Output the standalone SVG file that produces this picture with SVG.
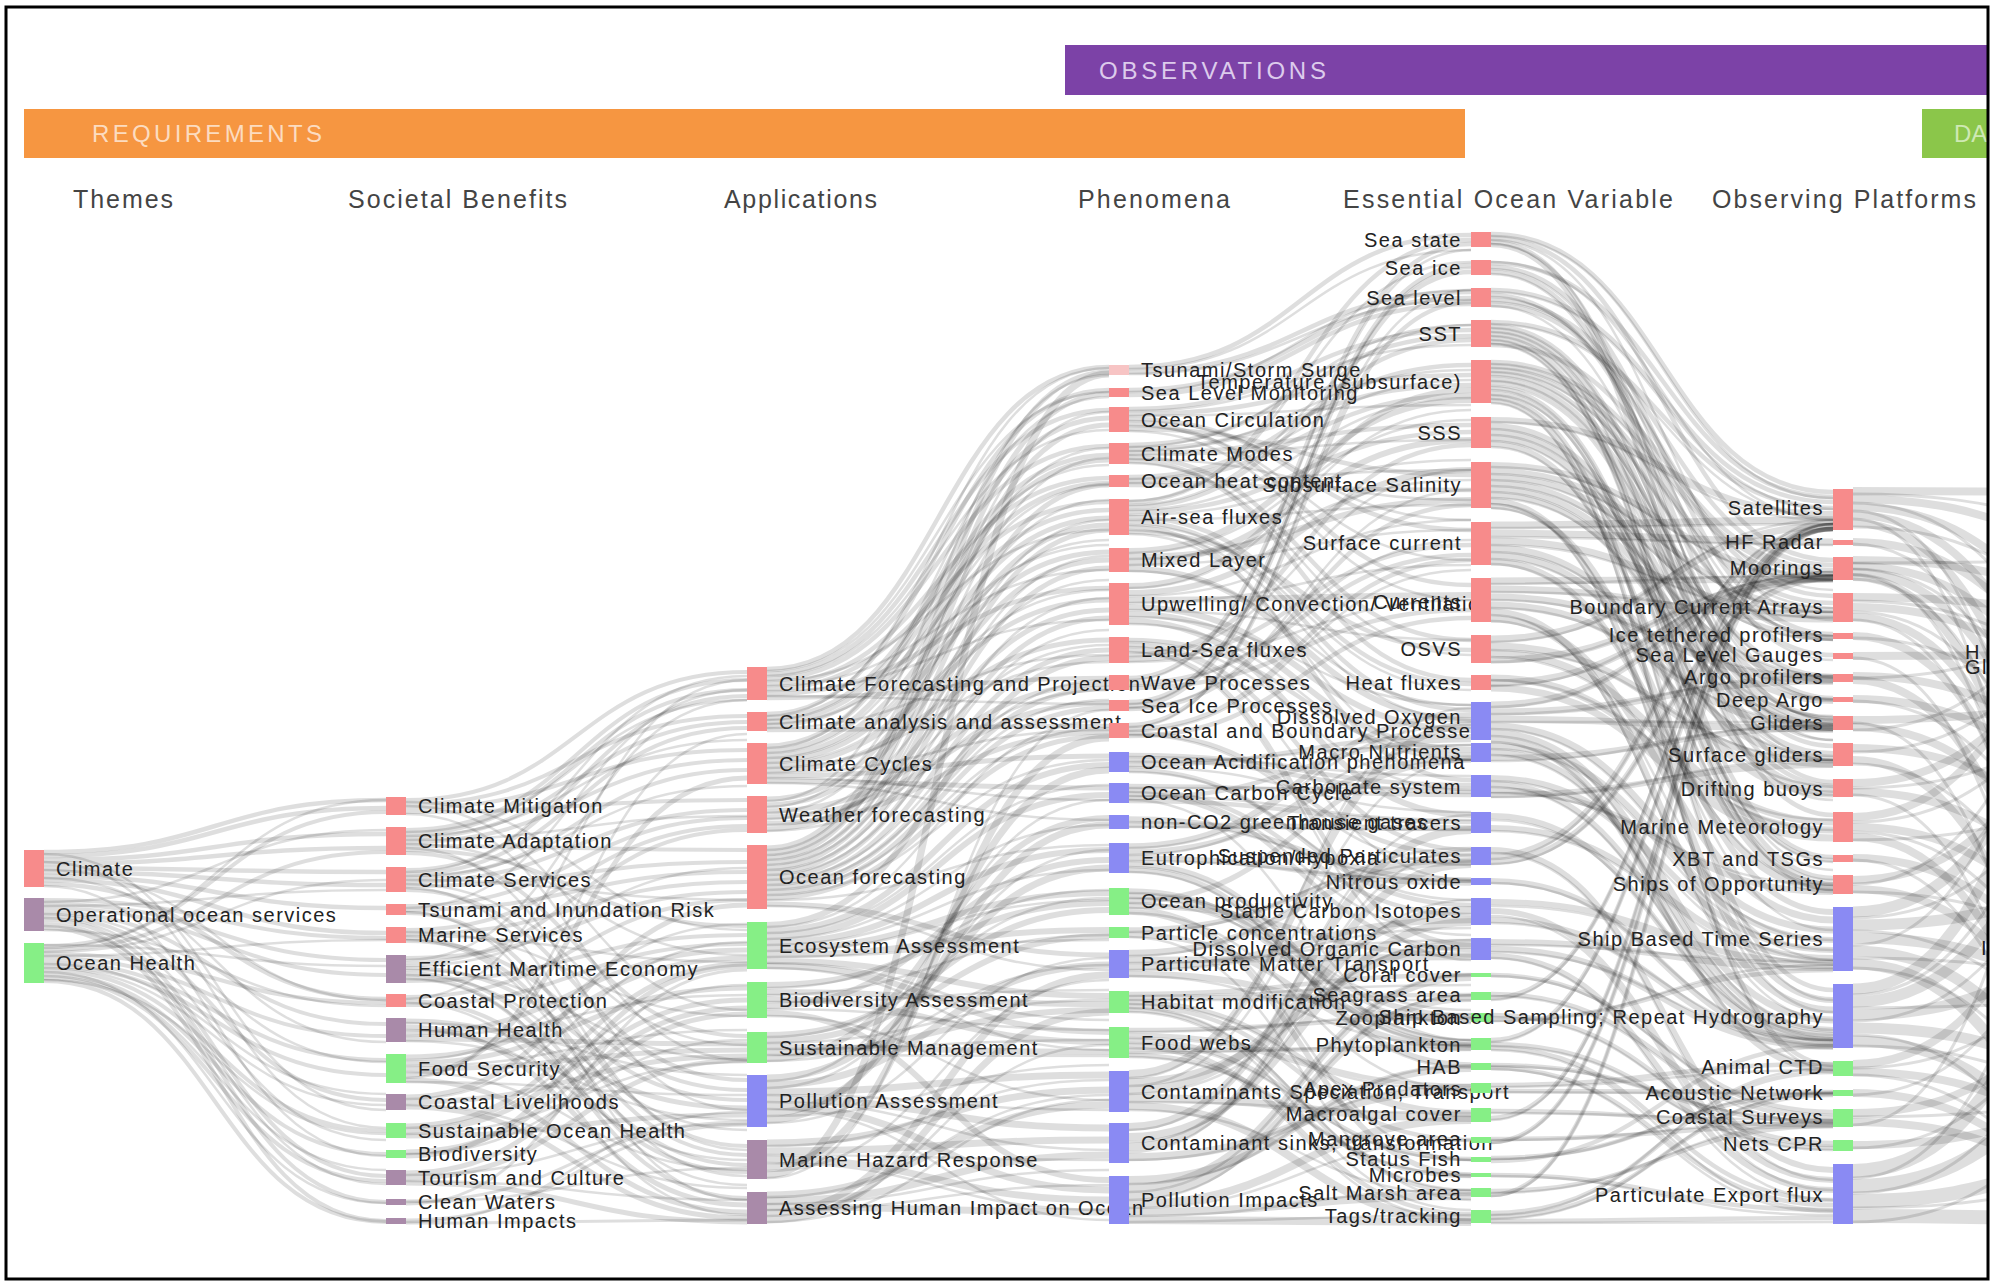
<svg xmlns="http://www.w3.org/2000/svg" width="1997" height="1284" viewBox="0 0 1997 1284">
<defs>
<clipPath id="cp"><rect x="7" y="8" width="1980" height="1270"/></clipPath>
<style>
.lk path{fill:none;stroke:#000;stroke-opacity:0.13}
.pk{fill:#f78b8b}.mv{fill:#a98aa9}.gr{fill:#86ef86}.bl{fill:#8a8af3}.lp{fill:#f7c4c4}
.lb{font-family:"Liberation Sans",Arial,sans-serif;font-size:20px;letter-spacing:1.5px;fill:#222}
.r{text-anchor:end}
.hd{font-family:"Liberation Sans",Arial,sans-serif;font-size:25px;fill:#444}
.bn{font-family:"Liberation Sans",Arial,sans-serif;font-size:24px}
</style>
</defs>
<rect x="0" y="0" width="1997" height="1284" fill="#fff"/>
<g clip-path="url(#cp)">
<g id="banners">
<rect x="1065" y="45" width="930" height="50" fill="#7c42a7"/>
<text class="bn" x="1099" y="79" textLength="227" lengthAdjust="spacing" fill="#dccbec">OBSERVATIONS</text>
<rect x="24" y="109" width="1441" height="49" fill="#f69641"/>
<text class="bn" x="92" y="142" textLength="230" lengthAdjust="spacing" fill="#fcdcc0">REQUIREMENTS</text>
<rect x="1922" y="109" width="80" height="49" fill="#8bc64a"/>
<text class="bn" x="1954" y="142" fill="#cfe9b4">DA</text>
</g>
<g id="headers">
<text class="hd" x="73" y="208" textLength="100" lengthAdjust="spacing">Themes</text>
<text class="hd" x="348" y="208" textLength="219" lengthAdjust="spacing">Societal Benefits</text>
<text class="hd" x="724" y="208" textLength="153" lengthAdjust="spacing">Applications</text>
<text class="hd" x="1078" y="208" textLength="152" lengthAdjust="spacing">Phenomena</text>
<text class="hd" x="1343" y="208" textLength="330" lengthAdjust="spacing">Essential Ocean Variable</text>
<text class="hd" x="1712" y="208" textLength="264" lengthAdjust="spacing">Observing Platforms</text>
</g>
<g id="links" class="lk">
<g stroke-width="4.5">
<path d="M44 852C215 852 215 800 386 800"/><path d="M44 856C215 856 215 808 386 808"/><path d="M44 860C215 860 215 834 386 834"/><path d="M44 864C215 864 215 848 386 848"/><path d="M44 868C215 868 215 872 386 872"/><path d="M44 872C215 872 215 885 386 885"/><path d="M44 876C215 876 215 908 386 908"/><path d="M44 880C215 880 215 933 386 933"/><path d="M44 884C215 884 215 999 386 999"/>
</g>
<g stroke-width="4">
<path d="M44 900C215 900 215 938 386 938"/><path d="M44 904C215 904 215 960 386 960"/><path d="M44 908C215 908 215 975 386 975"/><path d="M44 912C215 912 215 1024 386 1024"/><path d="M44 916C215 916 215 1100 386 1100"/><path d="M44 920C215 920 215 1176 386 1176"/><path d="M44 924C215 924 215 1202 386 1202"/><path d="M44 928C215 928 215 1221 386 1221"/>
<path d="M44 946C215 946 215 812 386 812"/><path d="M44 950C215 950 215 852 386 852"/><path d="M44 954C215 954 215 1003 386 1003"/><path d="M44 958C215 958 215 1036 386 1036"/><path d="M44 962C215 962 215 1060 386 1060"/><path d="M44 966C215 966 215 1075 386 1075"/><path d="M44 970C215 970 215 1131 386 1131"/><path d="M44 974C215 974 215 1154 386 1154"/><path d="M44 978C215 978 215 1181 386 1181"/><path d="M44 981C215 981 215 1222 386 1222"/>
</g>
<g stroke-width="2.5">
<path d="M44 854C215 854 215 1110 386 1110"/><path d="M44 862C215 862 215 1128 386 1128"/><path d="M44 870C215 870 215 1000 386 1000"/><path d="M44 878C215 878 215 1042 386 1042"/><path d="M44 886C215 886 215 1156 386 1156"/><path d="M44 902C215 902 215 830 386 830"/><path d="M44 906C215 906 215 890 386 890"/><path d="M44 914C215 914 215 1062 386 1062"/><path d="M44 918C215 918 215 1140 386 1140"/><path d="M44 926C215 926 215 1184 386 1184"/><path d="M44 930C215 930 215 1006 386 1006"/><path d="M44 948C215 948 215 800 386 800"/><path d="M44 952C215 952 215 880 386 880"/><path d="M44 956C215 956 215 940 386 940"/><path d="M44 964C215 964 215 1094 386 1094"/><path d="M44 968C215 968 215 1105 386 1105"/><path d="M44 972C215 972 215 1203 386 1203"/><path d="M44 976C215 976 215 1170 386 1170"/><path d="M44 980C215 980 215 1134 386 1134"/><path d="M44 945C215 945 215 966 386 966"/>
</g>
<g stroke-width="4">
<path d="M406 800C576 800 576 672 747 672"/><path d="M406 804C576 804 576 716 747 716"/><path d="M406 808C576 808 576 750 747 750"/><path d="M406 812C576 812 576 800 747 800"/>
<path d="M406 830C576 830 576 680 747 680"/><path d="M406 834C576 834 576 690 747 690"/><path d="M406 838C576 838 576 722 747 722"/><path d="M406 842C576 842 576 760 747 760"/><path d="M406 846C576 846 576 850 747 850"/><path d="M406 850C576 850 576 926 747 926"/><path d="M406 853C576 853 576 1036 747 1036"/>
<path d="M406 870C576 870 576 696 747 696"/><path d="M406 874C576 874 576 728 747 728"/><path d="M406 878C576 878 576 770 747 770"/><path d="M406 882C576 882 576 810 747 810"/><path d="M406 886C576 886 576 862 747 862"/><path d="M406 890C576 890 576 1080 747 1080"/>
<path d="M406 906C576 906 576 818 747 818"/><path d="M406 910C576 910 576 872 747 872"/><path d="M406 913C576 913 576 1146 747 1146"/>
<path d="M406 930C576 930 576 826 747 826"/><path d="M406 934C576 934 576 882 747 882"/><path d="M406 938C576 938 576 1155 747 1155"/><path d="M406 941C576 941 576 1090 747 1090"/>
<path d="M406 958C576 958 576 892 747 892"/><path d="M406 963C576 963 576 830 747 830"/><path d="M406 968C576 968 576 1100 747 1100"/><path d="M406 973C576 973 576 1165 747 1165"/><path d="M406 977C576 977 576 1198 747 1198"/><path d="M406 981C576 981 576 935 747 935"/>
<path d="M406 997C576 997 576 900 747 900"/><path d="M406 1001C576 1001 576 1172 747 1172"/><path d="M406 1005C576 1005 576 944 747 944"/>
</g>
<g stroke-width="5">
<path d="M406 1021C576 1021 576 1108 747 1108"/><path d="M406 1027C576 1027 576 1205 747 1205"/><path d="M406 1033C576 1033 576 950 747 950"/><path d="M406 1039C576 1039 576 1044 747 1044"/>
<path d="M406 1057C576 1057 576 958 747 958"/><path d="M406 1063C576 1063 576 988 747 988"/><path d="M406 1069C576 1069 576 1050 747 1050"/><path d="M406 1075C576 1075 576 778 747 778"/><path d="M406 1080C576 1080 576 1212 747 1212"/>
<path d="M406 1097C576 1097 576 905 747 905"/><path d="M406 1102C576 1102 576 1056 747 1056"/><path d="M406 1107C576 1107 576 1218 747 1218"/>
<path d="M406 1126C576 1126 576 964 747 964"/><path d="M406 1131C576 1131 576 1000 747 1000"/><path d="M406 1136C576 1136 576 1115 747 1115"/>
<path d="M406 1152C576 1152 576 1008 747 1008"/><path d="M406 1156C576 1156 576 966 747 966"/>
<path d="M406 1173C576 1173 576 1014 747 1014"/><path d="M406 1178C576 1178 576 1060 747 1060"/><path d="M406 1183C576 1183 576 1222 747 1222"/>
</g>
<g stroke-width="3">
<path d="M406 1201C576 1201 576 1122 747 1122"/><path d="M406 1204C576 1204 576 970 747 970"/><path d="M406 1220C576 1220 576 1125 747 1125"/><path d="M406 1223C576 1223 576 1220 747 1220"/>
</g>
<g stroke-width="2.5">
<path d="M406 802C576 802 576 930 747 930"/><path d="M406 806C576 806 576 1010 747 1010"/><path d="M406 814C576 814 576 1060 747 1060"/><path d="M406 832C576 832 576 700 747 700"/><path d="M406 836C576 836 576 740 747 740"/><path d="M406 840C576 840 576 816 747 816"/><path d="M406 844C576 844 576 955 747 955"/><path d="M406 848C576 848 576 1110 747 1110"/><path d="M406 872C576 872 576 676 747 676"/><path d="M406 876C576 876 576 786 747 786"/><path d="M406 880C576 880 576 900 747 900"/><path d="M406 884C576 884 576 1045 747 1045"/><path d="M406 888C576 888 576 1150 747 1150"/><path d="M406 908C576 908 576 690 747 690"/><path d="M406 912C576 912 576 1200 747 1200"/><path d="M406 932C576 932 576 1016 747 1016"/><path d="M406 936C576 936 576 962 747 962"/><path d="M406 940C576 940 576 1176 747 1176"/><path d="M406 960C576 960 576 700 747 700"/><path d="M406 966C576 966 576 868 747 868"/><path d="M406 970C576 970 576 1060 747 1060"/><path d="M406 975C576 975 576 1130 747 1130"/><path d="M406 979C576 979 576 1185 747 1185"/><path d="M406 999C576 999 576 680 747 680"/><path d="M406 1003C576 1003 576 1215 747 1215"/><path d="M406 1023C576 1023 576 1075 747 1075"/><path d="M406 1030C576 1030 576 1160 747 1160"/><path d="M406 1036C576 1036 576 995 747 995"/><path d="M406 1041C576 1041 576 1120 747 1120"/><path d="M406 1060C576 1060 576 924 747 924"/><path d="M406 1066C576 1066 576 1030 747 1030"/><path d="M406 1072C576 1072 576 1170 747 1170"/><path d="M406 1078C576 1078 576 734 747 734"/><path d="M406 1082C576 1082 576 1095 747 1095"/><path d="M406 1099C576 1099 576 942 747 942"/><path d="M406 1105C576 1105 576 1188 747 1188"/><path d="M406 1128C576 1128 576 985 747 985"/><path d="M406 1134C576 1134 576 1062 747 1062"/><path d="M406 1154C576 1154 576 1040 747 1040"/><path d="M406 1175C576 1175 576 1124 747 1124"/><path d="M406 1181C576 1181 576 1200 747 1200"/><path d="M406 1202C576 1202 576 1168 747 1168"/><path d="M406 1222C576 1222 576 1112 747 1112"/>
</g>
<g stroke-width="4.5">
<path d="M767 669C938 669 938 367 1109 367"/><path d="M767 674C938 674 938 410 1109 410"/><path d="M767 679C938 679 938 446 1109 446"/><path d="M767 684C938 684 938 478 1109 478"/><path d="M767 689C938 689 938 502 1109 502"/><path d="M767 694C938 694 938 588 1109 588"/><path d="M767 698C938 698 938 678 1109 678"/>
<path d="M767 714C938 714 938 390 1109 390"/><path d="M767 718C938 718 938 455 1109 455"/><path d="M767 722C938 722 938 483 1109 483"/><path d="M767 726C938 726 938 510 1109 510"/><path d="M767 730C938 730 938 726 1109 726"/>
</g>
<g stroke-width="5">
<path d="M767 746C938 746 938 418 1109 418"/><path d="M767 751C938 751 938 460 1109 460"/><path d="M767 756C938 756 938 518 1109 518"/><path d="M767 761C938 761 938 552 1109 552"/><path d="M767 766C938 766 938 600 1109 600"/><path d="M767 771C938 771 938 640 1109 640"/><path d="M767 776C938 776 938 756 1109 756"/><path d="M767 781C938 781 938 788 1109 788"/>
<path d="M767 799C938 799 938 525 1109 525"/><path d="M767 805C938 805 938 560 1109 560"/><path d="M767 811C938 811 938 684 1109 684"/><path d="M767 817C938 817 938 703 1109 703"/><path d="M767 823C938 823 938 732 1109 732"/><path d="M767 829C938 829 938 610 1109 610"/>
<path d="M767 848C938 848 938 372 1109 372"/><path d="M767 853C938 853 938 394 1109 394"/><path d="M767 858C938 858 938 425 1109 425"/><path d="M767 863C938 863 938 485 1109 485"/><path d="M767 868C938 868 938 530 1109 530"/><path d="M767 873C938 873 938 568 1109 568"/><path d="M767 878C938 878 938 618 1109 618"/><path d="M767 883C938 883 938 650 1109 650"/><path d="M767 888C938 888 938 688 1109 688"/><path d="M767 893C938 893 938 708 1109 708"/><path d="M767 898C938 898 938 736 1109 736"/><path d="M767 904C938 904 938 955 1109 955"/>
</g>
<g stroke-width="6">
<path d="M767 925C938 925 938 658 1109 658"/><path d="M767 931C938 931 938 765 1109 765"/><path d="M767 937C938 937 938 795 1109 795"/><path d="M767 943C938 943 938 850 1109 850"/><path d="M767 949C938 949 938 893 1109 893"/><path d="M767 955C938 955 938 930 1109 930"/><path d="M767 961C938 961 938 996 1109 996"/><path d="M767 966C938 966 938 1032 1109 1032"/>
<path d="M767 985C938 985 938 903 1109 903"/><path d="M767 992C938 992 938 1004 1109 1004"/><path d="M767 999C938 999 938 1042 1109 1042"/><path d="M767 1006C938 1006 938 860 1109 860"/><path d="M767 1013C938 1013 938 1180 1109 1180"/>
<path d="M767 1035C938 1035 938 910 1109 910"/><path d="M767 1041C938 1041 938 936 1109 936"/><path d="M767 1047C938 1047 938 1052 1109 1052"/><path d="M767 1053C938 1053 938 1010 1109 1010"/><path d="M767 1059C938 1059 938 818 1109 818"/>
</g>
<g stroke-width="7">
<path d="M767 1078C938 1078 938 868 1109 868"/><path d="M767 1085C938 1085 938 965 1109 965"/><path d="M767 1092C938 1092 938 1075 1109 1075"/><path d="M767 1099C938 1099 938 1128 1109 1128"/><path d="M767 1106C938 1106 938 1190 1109 1190"/><path d="M767 1113C938 1113 938 825 1109 825"/><path d="M767 1120C938 1120 938 770 1109 770"/>
<path d="M767 1143C938 1143 938 1090 1109 1090"/><path d="M767 1151C938 1151 938 1140 1109 1140"/><path d="M767 1159C938 1159 938 1200 1109 1200"/><path d="M767 1167C938 1167 938 738 1109 738"/><path d="M767 1175C938 1175 938 374 1109 374"/>
<path d="M767 1195C938 1195 938 1105 1109 1105"/><path d="M767 1201C938 1201 938 1155 1109 1155"/><path d="M767 1207C938 1207 938 1212 1109 1212"/><path d="M767 1213C938 1213 938 975 1109 975"/><path d="M767 1220C938 1220 938 1012 1109 1012"/>
</g>
<g stroke-width="2.5">
<path d="M767 671C938 671 938 392 1109 392"/><path d="M767 676C938 676 938 430 1109 430"/><path d="M767 681C938 681 938 530 1109 530"/><path d="M767 686C938 686 938 570 1109 570"/><path d="M767 691C938 691 938 620 1109 620"/><path d="M767 696C938 696 938 704 1109 704"/><path d="M767 716C938 716 938 368 1109 368"/><path d="M767 720C938 720 938 465 1109 465"/><path d="M767 724C938 724 938 545 1109 545"/><path d="M767 728C938 728 938 655 1109 655"/><path d="M767 748C938 748 938 397 1109 397"/><path d="M767 753C938 753 938 485 1109 485"/><path d="M767 758C938 758 938 540 1109 540"/><path d="M767 763C938 763 938 590 1109 590"/><path d="M767 768C938 768 938 662 1109 662"/><path d="M767 773C938 773 938 730 1109 730"/><path d="M767 778C938 778 938 800 1109 800"/><path d="M767 783C938 783 938 820 1109 820"/><path d="M767 801C938 801 938 375 1109 375"/><path d="M767 807C938 807 938 448 1109 448"/><path d="M767 813C938 813 938 500 1109 500"/><path d="M767 819C938 819 938 580 1109 580"/><path d="M767 825C938 825 938 645 1109 645"/><path d="M767 831C938 831 938 690 1109 690"/><path d="M767 850C938 850 938 412 1109 412"/><path d="M767 855C938 855 938 458 1109 458"/><path d="M767 860C938 860 938 520 1109 520"/><path d="M767 865C938 865 938 556 1109 556"/><path d="M767 870C938 870 938 598 1109 598"/><path d="M767 875C938 875 938 630 1109 630"/><path d="M767 880C938 880 938 680 1109 680"/><path d="M767 885C938 885 938 700 1109 700"/><path d="M767 890C938 890 938 728 1109 728"/><path d="M767 895C938 895 938 760 1109 760"/><path d="M767 900C938 900 938 845 1109 845"/><path d="M767 906C938 906 938 970 1109 970"/>
<path d="M767 927C938 927 938 720 1109 720"/><path d="M767 933C938 933 938 785 1109 785"/><path d="M767 939C938 939 938 825 1109 825"/><path d="M767 945C938 945 938 870 1109 870"/><path d="M767 951C938 951 938 900 1109 900"/><path d="M767 957C938 957 938 940 1109 940"/><path d="M767 963C938 963 938 1020 1109 1020"/><path d="M767 968C938 968 938 1050 1109 1050"/><path d="M767 988C938 988 938 890 1109 890"/><path d="M767 995C938 995 938 935 1109 935"/><path d="M767 1002C938 1002 938 990 1109 990"/><path d="M767 1009C938 1009 938 1030 1109 1030"/><path d="M767 1016C938 1016 938 1100 1109 1100"/><path d="M767 1037C938 1037 938 898 1109 898"/><path d="M767 1043C938 1043 938 1000 1109 1000"/><path d="M767 1049C938 1049 938 1040 1109 1040"/><path d="M767 1055C938 1055 938 1056 1109 1056"/><path d="M767 1061C938 1061 938 965 1109 965"/><path d="M767 1081C938 1081 938 800 1109 800"/><path d="M767 1088C938 1088 938 850 1109 850"/><path d="M767 1095C938 1095 938 1110 1109 1110"/><path d="M767 1102C938 1102 938 1150 1109 1150"/><path d="M767 1109C938 1109 938 1220 1109 1220"/><path d="M767 1116C938 1116 938 1065 1109 1065"/><path d="M767 1123C938 1123 938 958 1109 958"/><path d="M767 1146C938 1146 938 1080 1109 1080"/><path d="M767 1155C938 1155 938 1160 1109 1160"/><path d="M767 1163C938 1163 938 1210 1109 1210"/><path d="M767 1171C938 1171 938 980 1109 980"/><path d="M767 1178C938 1178 938 710 1109 710"/><path d="M767 1197C938 1197 938 1095 1109 1095"/><path d="M767 1204C938 1204 938 1170 1109 1170"/><path d="M767 1210C938 1210 938 1185 1109 1185"/><path d="M767 1216C938 1216 938 1045 1109 1045"/><path d="M767 1222C938 1222 938 1100 1109 1100"/>
</g>
<g stroke-width="4.5">
<path d="M1129 367C1300 367 1300 235 1471 235"/><path d="M1129 372C1300 372 1300 292 1471 292"/><path d="M1129 390C1300 390 1300 298 1471 298"/><path d="M1129 395C1300 395 1300 304 1471 304"/>
<path d="M1129 409C1300 409 1300 330 1471 330"/><path d="M1129 414C1300 414 1300 375 1471 375"/><path d="M1129 419C1300 419 1300 530 1471 530"/><path d="M1129 424C1300 424 1300 585 1471 585"/><path d="M1129 429C1300 429 1300 475 1471 475"/>
<path d="M1129 445C1300 445 1300 336 1471 336"/><path d="M1129 449C1300 449 1300 385 1471 385"/><path d="M1129 453C1300 453 1300 425 1471 425"/><path d="M1129 457C1300 457 1300 640 1471 640"/><path d="M1129 461C1300 461 1300 680 1471 680"/>
<path d="M1129 477C1300 477 1300 365 1471 365"/><path d="M1129 481C1300 481 1300 395 1471 395"/><path d="M1129 485C1300 485 1300 490 1471 490"/>
<path d="M1129 502C1300 502 1300 240 1471 240"/><path d="M1129 507C1300 507 1300 340 1471 340"/><path d="M1129 512C1300 512 1300 432 1471 432"/><path d="M1129 517C1300 517 1300 684 1471 684"/><path d="M1129 522C1300 522 1300 710 1471 710"/><path d="M1129 527C1300 527 1300 780 1471 780"/><path d="M1129 532C1300 532 1300 650 1471 650"/>
</g>
<g stroke-width="6">
<path d="M1129 551C1300 551 1300 400 1471 400"/><path d="M1129 557C1300 557 1300 500 1471 500"/><path d="M1129 563C1300 563 1300 440 1471 440"/><path d="M1129 569C1300 569 1300 720 1471 720"/>
<path d="M1129 586C1300 586 1300 390 1471 390"/><path d="M1129 593C1300 593 1300 470 1471 470"/><path d="M1129 600C1300 600 1300 595 1471 595"/><path d="M1129 607C1300 607 1300 730 1471 730"/><path d="M1129 614C1300 614 1300 750 1471 750"/><path d="M1129 621C1300 621 1300 815 1471 815"/>
</g>
<g stroke-width="4.5">
<path d="M1129 640C1300 640 1300 755 1471 755"/><path d="M1129 645C1300 645 1300 850 1471 850"/><path d="M1129 650C1300 650 1300 945 1471 945"/><path d="M1129 655C1300 655 1300 445 1471 445"/><path d="M1129 660C1300 660 1300 545 1471 545"/>
<path d="M1129 678C1300 678 1300 244 1471 244"/><path d="M1129 683C1300 683 1300 555 1471 555"/><path d="M1129 688C1300 688 1300 610 1471 610"/>
<path d="M1129 702C1300 702 1300 265 1471 265"/><path d="M1129 706C1300 706 1300 272 1471 272"/><path d="M1129 709C1300 709 1300 505 1471 505"/>
<path d="M1129 725C1300 725 1300 302 1471 302"/><path d="M1129 729C1300 729 1300 560 1471 560"/><path d="M1129 733C1300 733 1300 855 1471 855"/><path d="M1129 736C1300 736 1300 618 1471 618"/>
<path d="M1129 755C1300 755 1300 785 1471 785"/><path d="M1129 760C1300 760 1300 792 1471 792"/><path d="M1129 765C1300 765 1300 736 1471 736"/><path d="M1129 770C1300 770 1300 905 1471 905"/>
<path d="M1129 786C1300 786 1300 795 1471 795"/><path d="M1129 790C1300 790 1300 915 1471 915"/><path d="M1129 794C1300 794 1300 950 1471 950"/><path d="M1129 798C1300 798 1300 740 1471 740"/><path d="M1129 801C1300 801 1300 822 1471 822"/>
</g>
<g stroke-width="5.5">
<path d="M1129 819C1300 819 1300 880 1471 880"/><path d="M1129 825C1300 825 1300 828 1471 828"/>
<path d="M1129 846C1300 846 1300 715 1471 715"/><path d="M1129 852C1300 852 1300 758 1471 758"/><path d="M1129 858C1300 858 1300 883 1471 883"/><path d="M1129 864C1300 864 1300 1042 1471 1042"/><path d="M1129 870C1300 870 1300 1065 1471 1065"/>
<path d="M1129 891C1300 891 1300 1045 1471 1045"/><path d="M1129 896C1300 896 1300 1016 1471 1016"/><path d="M1129 901C1300 901 1300 760 1471 760"/><path d="M1129 906C1300 906 1300 955 1471 955"/><path d="M1129 912C1300 912 1300 1175 1471 1175"/>
<path d="M1129 930C1300 930 1300 860 1471 860"/><path d="M1129 935C1300 935 1300 1048 1471 1048"/>
</g>
<g stroke-width="6.5">
<path d="M1129 953C1300 953 1300 862 1471 862"/><path d="M1129 960C1300 960 1300 957 1471 957"/><path d="M1129 967C1300 967 1300 920 1471 920"/><path d="M1129 974C1300 974 1300 1020 1471 1020"/>
</g>
<g stroke-width="4.5">
<path d="M1129 994C1300 994 1300 975 1471 975"/><path d="M1129 998C1300 998 1300 995 1471 995"/><path d="M1129 1002C1300 1002 1300 1112 1471 1112"/><path d="M1129 1006C1300 1006 1300 1140 1471 1140"/><path d="M1129 1010C1300 1010 1300 1192 1471 1192"/>
<path d="M1129 1030C1300 1030 1300 1018 1471 1018"/><path d="M1129 1035C1300 1035 1300 1086 1471 1086"/><path d="M1129 1040C1300 1040 1300 1159 1471 1159"/><path d="M1129 1045C1300 1045 1300 1214 1471 1214"/><path d="M1129 1050C1300 1050 1300 1049 1471 1049"/><path d="M1129 1055C1300 1055 1300 1176 1471 1176"/>
</g>
<g stroke-width="8">
<path d="M1129 1074C1300 1074 1300 725 1471 725"/><path d="M1129 1082C1300 1082 1300 945 1471 945"/><path d="M1129 1090C1300 1090 1300 910 1471 910"/><path d="M1129 1098C1300 1098 1300 1118 1471 1118"/><path d="M1129 1106C1300 1106 1300 1220 1471 1220"/>
<path d="M1129 1127C1300 1127 1300 830 1471 830"/><path d="M1129 1137C1300 1137 1300 922 1471 922"/><path d="M1129 1147C1300 1147 1300 864 1471 864"/><path d="M1129 1157C1300 1157 1300 1090 1471 1090"/>
<path d="M1129 1180C1300 1180 1300 1068 1471 1068"/><path d="M1129 1188C1300 1188 1300 977 1471 977"/><path d="M1129 1196C1300 1196 1300 998 1471 998"/><path d="M1129 1204C1300 1204 1300 1120 1471 1120"/><path d="M1129 1212C1300 1212 1300 1196 1471 1196"/><path d="M1129 1220C1300 1220 1300 1222 1471 1222"/>
</g>
<g stroke-width="2.5">
<path d="M1129 369C1300 369 1300 250 1471 250"/><path d="M1129 374C1300 374 1300 300 1471 300"/><path d="M1129 392C1300 392 1300 290 1471 290"/><path d="M1129 411C1300 411 1300 345 1471 345"/><path d="M1129 416C1300 416 1300 405 1471 405"/><path d="M1129 421C1300 421 1300 520 1471 520"/><path d="M1129 426C1300 426 1300 560 1471 560"/><path d="M1129 431C1300 431 1300 600 1471 600"/><path d="M1129 447C1300 447 1300 325 1471 325"/><path d="M1129 451C1300 451 1300 370 1471 370"/><path d="M1129 455C1300 455 1300 440 1471 440"/><path d="M1129 459C1300 459 1300 500 1471 500"/><path d="M1129 463C1300 463 1300 655 1471 655"/><path d="M1129 479C1300 479 1300 380 1471 380"/><path d="M1129 483C1300 483 1300 470 1471 470"/><path d="M1129 501C1300 501 1300 262 1471 262"/><path d="M1129 505C1300 505 1300 325 1471 325"/><path d="M1129 510C1300 510 1300 398 1471 398"/><path d="M1129 515C1300 515 1300 460 1471 460"/><path d="M1129 520C1300 520 1300 505 1471 505"/><path d="M1129 525C1300 525 1300 690 1471 690"/><path d="M1129 530C1300 530 1300 720 1471 720"/><path d="M1129 534C1300 534 1300 760 1471 760"/><path d="M1129 553C1300 553 1300 420 1471 420"/><path d="M1129 559C1300 559 1300 480 1471 480"/><path d="M1129 565C1300 565 1300 530 1471 530"/><path d="M1129 571C1300 571 1300 705 1471 705"/><path d="M1129 588C1300 588 1300 410 1471 410"/><path d="M1129 596C1300 596 1300 520 1471 520"/><path d="M1129 603C1300 603 1300 565 1471 565"/><path d="M1129 610C1300 610 1300 640 1471 640"/><path d="M1129 617C1300 617 1300 705 1471 705"/><path d="M1129 624C1300 624 1300 760 1471 760"/><path d="M1129 642C1300 642 1300 790 1471 790"/><path d="M1129 647C1300 647 1300 880 1471 880"/><path d="M1129 652C1300 652 1300 960 1471 960"/><path d="M1129 657C1300 657 1300 470 1471 470"/><path d="M1129 662C1300 662 1300 600 1471 600"/><path d="M1129 680C1300 680 1300 250 1471 250"/><path d="M1129 686C1300 686 1300 540 1471 540"/><path d="M1129 704C1300 704 1300 268 1471 268"/><path d="M1129 708C1300 708 1300 490 1471 490"/><path d="M1129 727C1300 727 1300 290 1471 290"/><path d="M1129 731C1300 731 1300 570 1471 570"/><path d="M1129 735C1300 735 1300 865 1471 865"/><path d="M1129 757C1300 757 1300 776 1471 776"/><path d="M1129 762C1300 762 1300 745 1471 745"/><path d="M1129 767C1300 767 1300 812 1471 812"/><path d="M1129 772C1300 772 1300 900 1471 900"/><path d="M1129 788C1300 788 1300 788 1471 788"/><path d="M1129 792C1300 792 1300 935 1471 935"/><path d="M1129 796C1300 796 1300 820 1471 820"/><path d="M1129 800C1300 800 1300 1040 1471 1040"/><path d="M1129 822C1300 822 1300 882 1471 882"/><path d="M1129 827C1300 827 1300 830 1471 830"/><path d="M1129 848C1300 848 1300 725 1471 725"/><path d="M1129 855C1300 855 1300 745 1471 745"/><path d="M1129 861C1300 861 1300 880 1471 880"/><path d="M1129 867C1300 867 1300 1040 1471 1040"/><path d="M1129 872C1300 872 1300 1068 1471 1068"/>
<path d="M1129 893C1300 893 1300 1010 1471 1010"/><path d="M1129 898C1300 898 1300 1045 1471 1045"/><path d="M1129 903C1300 903 1300 1023 1471 1023"/><path d="M1129 908C1300 908 1300 1160 1471 1160"/><path d="M1129 913C1300 913 1300 1090 1471 1090"/><path d="M1129 932C1300 932 1300 855 1471 855"/><path d="M1129 937C1300 937 1300 1200 1471 1200"/><path d="M1129 956C1300 956 1300 848 1471 848"/><path d="M1129 963C1300 963 1300 940 1471 940"/><path d="M1129 970C1300 970 1300 928 1471 928"/><path d="M1129 976C1300 976 1300 1046 1471 1046"/><path d="M1129 996C1300 996 1300 985 1471 985"/><path d="M1129 1000C1300 1000 1300 1000 1471 1000"/><path d="M1129 1004C1300 1004 1300 1116 1471 1116"/><path d="M1129 1008C1300 1008 1300 1190 1471 1190"/><path d="M1129 1012C1300 1012 1300 1210 1471 1210"/><path d="M1129 1032C1300 1032 1300 1014 1471 1014"/><path d="M1129 1038C1300 1038 1300 1090 1471 1090"/><path d="M1129 1043C1300 1043 1300 1160 1471 1160"/><path d="M1129 1048C1300 1048 1300 1220 1471 1220"/><path d="M1129 1053C1300 1053 1300 1045 1471 1045"/><path d="M1129 1057C1300 1057 1300 1175 1471 1175"/><path d="M1129 1078C1300 1078 1300 708 1471 708"/><path d="M1129 1086C1300 1086 1300 760 1471 760"/><path d="M1129 1094C1300 1094 1300 940 1471 940"/><path d="M1129 1102C1300 1102 1300 1113 1471 1113"/><path d="M1129 1110C1300 1110 1300 1195 1471 1195"/><path d="M1129 1130C1300 1130 1300 815 1471 815"/><path d="M1129 1142C1300 1142 1300 900 1471 900"/><path d="M1129 1152C1300 1152 1300 850 1471 850"/><path d="M1129 1160C1300 1160 1300 1085 1471 1085"/><path d="M1129 1184C1300 1184 1300 1066 1471 1066"/><path d="M1129 1192C1300 1192 1300 975 1471 975"/><path d="M1129 1200C1300 1200 1300 995 1471 995"/><path d="M1129 1208C1300 1208 1300 1140 1471 1140"/><path d="M1129 1216C1300 1216 1300 1190 1471 1190"/><path d="M1129 1222C1300 1222 1300 1215 1471 1215"/>
</g>
<g stroke-width="4.5">
<path d="M1491 234C1662 234 1662 492 1833 492"/><path d="M1491 238C1662 238 1662 560 1833 560"/><path d="M1491 242C1662 242 1662 782 1833 782"/><path d="M1491 245C1662 245 1662 815 1833 815"/>
<path d="M1491 263C1662 263 1662 497 1833 497"/><path d="M1491 267C1662 267 1662 634 1833 634"/><path d="M1491 272C1662 272 1662 698 1833 698"/>
<path d="M1491 290C1662 290 1662 502 1833 502"/><path d="M1491 295C1662 295 1662 655 1833 655"/><path d="M1491 300C1662 300 1662 565 1833 565"/><path d="M1491 305C1662 305 1662 596 1833 596"/>
<path d="M1491 322C1662 322 1662 508 1833 508"/><path d="M1491 326C1662 326 1662 718 1833 718"/><path d="M1491 330C1662 330 1662 746 1833 746"/><path d="M1491 334C1662 334 1662 786 1833 786"/><path d="M1491 338C1662 338 1662 857 1833 857"/><path d="M1491 342C1662 342 1662 878 1833 878"/><path d="M1491 345C1662 345 1662 570 1833 570"/>
<path d="M1491 362C1662 362 1662 574 1833 574"/><path d="M1491 366C1662 366 1662 603 1833 603"/><path d="M1491 370C1662 370 1662 637 1833 637"/><path d="M1491 374C1662 374 1662 676 1833 676"/><path d="M1491 379C1662 379 1662 700 1833 700"/><path d="M1491 383C1662 383 1662 723 1833 723"/><path d="M1491 388C1662 388 1662 860 1833 860"/><path d="M1491 393C1662 393 1662 884 1833 884"/><path d="M1491 397C1662 397 1662 990 1833 990"/><path d="M1491 401C1662 401 1662 1065 1833 1065"/>
</g>
<g stroke-width="6">
<path d="M1491 420C1662 420 1662 514 1833 514"/><path d="M1491 426C1662 426 1662 726 1833 726"/><path d="M1491 432C1662 432 1662 754 1833 754"/><path d="M1491 438C1662 438 1662 790 1833 790"/><path d="M1491 444C1662 444 1662 888 1833 888"/>
<path d="M1491 465C1662 465 1662 577 1833 577"/><path d="M1491 471C1662 471 1662 610 1833 610"/><path d="M1491 477C1662 477 1662 638 1833 638"/><path d="M1491 483C1662 483 1662 680 1833 680"/><path d="M1491 489C1662 489 1662 701 1833 701"/><path d="M1491 495C1662 495 1662 728 1833 728"/><path d="M1491 501C1662 501 1662 1000 1833 1000"/><path d="M1491 506C1662 506 1662 912 1833 912"/>
</g>
<g stroke-width="7">
<path d="M1491 525C1662 525 1662 520 1833 520"/><path d="M1491 533C1662 533 1662 542 1833 542"/><path d="M1491 541C1662 541 1662 615 1833 615"/><path d="M1491 548C1662 548 1662 760 1833 760"/><path d="M1491 555C1662 555 1662 794 1833 794"/><path d="M1491 562C1662 562 1662 890 1833 890"/>
<path d="M1491 581C1662 581 1662 579 1833 579"/><path d="M1491 589C1662 589 1662 619 1833 619"/><path d="M1491 597C1662 597 1662 681 1833 681"/><path d="M1491 605C1662 605 1662 729 1833 729"/><path d="M1491 612C1662 612 1662 1010 1833 1010"/><path d="M1491 619C1662 619 1662 920 1833 920"/>
<path d="M1491 639C1662 639 1662 526 1833 526"/><path d="M1491 646C1662 646 1662 764 1833 764"/><path d="M1491 653C1662 653 1662 822 1833 822"/><path d="M1491 660C1662 660 1662 578 1833 578"/>
<path d="M1491 678C1662 678 1662 830 1833 830"/><path d="M1491 683C1662 683 1662 579 1833 579"/><path d="M1491 688C1662 688 1662 838 1833 838"/>
<path d="M1491 705C1662 705 1662 578 1833 578"/><path d="M1491 712C1662 712 1662 681 1833 681"/><path d="M1491 719C1662 719 1662 729 1833 729"/><path d="M1491 726C1662 726 1662 930 1833 930"/><path d="M1491 733C1662 733 1662 1020 1833 1020"/><path d="M1491 740C1662 740 1662 1070 1833 1070"/>
</g>
<g stroke-width="6">
<path d="M1491 746C1662 746 1662 940 1833 940"/><path d="M1491 752C1662 752 1662 1030 1833 1030"/><path d="M1491 758C1662 758 1662 728 1833 728"/>
<path d="M1491 778C1662 778 1662 950 1833 950"/><path d="M1491 784C1662 784 1662 1035 1833 1035"/><path d="M1491 790C1662 790 1662 892 1833 892"/><path d="M1491 795C1662 795 1662 765 1833 765"/>
<path d="M1491 816C1662 816 1662 1040 1833 1040"/><path d="M1491 828C1662 828 1662 958 1833 958"/>
<path d="M1491 850C1662 850 1662 1170 1833 1170"/><path d="M1491 856C1662 856 1662 528 1833 528"/><path d="M1491 862C1662 862 1662 578 1833 578"/>
<path d="M1491 881C1662 881 1662 1044 1833 1044"/>
<path d="M1491 902C1662 902 1662 963 1833 963"/><path d="M1491 911C1662 911 1662 1180 1833 1180"/><path d="M1491 920C1662 920 1662 1046 1833 1046"/>
<path d="M1491 942C1662 942 1662 968 1833 968"/><path d="M1491 949C1662 949 1662 1047 1833 1047"/><path d="M1491 956C1662 956 1662 1190 1833 1190"/>
</g>
<g stroke-width="4.5">
<path d="M1491 975C1662 975 1662 1112 1833 1112"/><path d="M1491 994C1662 994 1662 1118 1833 1118"/><path d="M1491 998C1662 998 1662 529 1833 529"/>
<path d="M1491 1015C1662 1015 1662 1143 1833 1143"/><path d="M1491 1020C1662 1020 1662 970 1833 970"/>
<path d="M1491 1040C1662 1040 1662 529 1833 529"/><path d="M1491 1044C1662 1044 1662 1148 1833 1148"/><path d="M1491 1048C1662 1048 1662 1200 1833 1200"/>
<path d="M1491 1065C1662 1065 1662 1122 1833 1122"/><path d="M1491 1068C1662 1068 1662 1205 1833 1205"/>
<path d="M1491 1085C1662 1085 1662 1064 1833 1064"/><path d="M1491 1091C1662 1091 1662 1092 1833 1092"/>
<path d="M1491 1111C1662 1111 1662 1125 1833 1125"/><path d="M1491 1118C1662 1118 1662 529 1833 529"/>
<path d="M1491 1139C1662 1139 1662 1126 1833 1126"/><path d="M1491 1142C1662 1142 1662 529 1833 529"/>
<path d="M1491 1158C1662 1158 1662 1094 1833 1094"/><path d="M1491 1161C1662 1161 1662 1046 1833 1046"/>
<path d="M1491 1175C1662 1175 1662 1210 1833 1210"/>
<path d="M1491 1191C1662 1191 1662 1126 1833 1126"/><path d="M1491 1195C1662 1195 1662 529 1833 529"/>
<path d="M1491 1213C1662 1213 1662 1072 1833 1072"/><path d="M1491 1217C1662 1217 1662 1095 1833 1095"/><path d="M1491 1221C1662 1221 1662 1218 1833 1218"/>
</g>
<g stroke-width="2.5">
<path d="M1491 236C1662 236 1662 498 1833 498"/><path d="M1491 240C1662 240 1662 620 1833 620"/><path d="M1491 244C1662 244 1662 740 1833 740"/><path d="M1491 262C1662 262 1662 520 1833 520"/><path d="M1491 269C1662 269 1662 660 1833 660"/><path d="M1491 274C1662 274 1662 720 1833 720"/><path d="M1491 292C1662 292 1662 509 1833 509"/><path d="M1491 297C1662 297 1662 640 1833 640"/><path d="M1491 302C1662 302 1662 590 1833 590"/><path d="M1491 306C1662 306 1662 700 1833 700"/><path d="M1491 324C1662 324 1662 518 1833 518"/><path d="M1491 328C1662 328 1662 720 1833 720"/><path d="M1491 332C1662 332 1662 760 1833 760"/><path d="M1491 336C1662 336 1662 800 1833 800"/><path d="M1491 340C1662 340 1662 870 1833 870"/><path d="M1491 344C1662 344 1662 890 1833 890"/><path d="M1491 364C1662 364 1662 580 1833 580"/><path d="M1491 368C1662 368 1662 608 1833 608"/><path d="M1491 372C1662 372 1662 636 1833 636"/><path d="M1491 376C1662 376 1662 678 1833 678"/><path d="M1491 381C1662 381 1662 718 1833 718"/><path d="M1491 386C1662 386 1662 740 1833 740"/><path d="M1491 390C1662 390 1662 862 1833 862"/><path d="M1491 395C1662 395 1662 880 1833 880"/><path d="M1491 399C1662 399 1662 1000 1833 1000"/><path d="M1491 403C1662 403 1662 1070 1833 1070"/><path d="M1491 422C1662 422 1662 520 1833 520"/><path d="M1491 429C1662 429 1662 730 1833 730"/><path d="M1491 435C1662 435 1662 760 1833 760"/><path d="M1491 441C1662 441 1662 795 1833 795"/><path d="M1491 447C1662 447 1662 883 1833 883"/><path d="M1491 467C1662 467 1662 580 1833 580"/><path d="M1491 474C1662 474 1662 612 1833 612"/><path d="M1491 480C1662 480 1662 640 1833 640"/><path d="M1491 486C1662 486 1662 676 1833 676"/><path d="M1491 492C1662 492 1662 716 1833 716"/><path d="M1491 498C1662 498 1662 724 1833 724"/><path d="M1491 504C1662 504 1662 1012 1833 1012"/><path d="M1491 508C1662 508 1662 930 1833 930"/><path d="M1491 528C1662 528 1662 524 1833 524"/><path d="M1491 537C1662 537 1662 545 1833 545"/><path d="M1491 545C1662 545 1662 618 1833 618"/><path d="M1491 552C1662 552 1662 756 1833 756"/><path d="M1491 559C1662 559 1662 786 1833 786"/><path d="M1491 564C1662 564 1662 885 1833 885"/><path d="M1491 584C1662 584 1662 575 1833 575"/><path d="M1491 592C1662 592 1662 612 1833 612"/><path d="M1491 600C1662 600 1662 676 1833 676"/><path d="M1491 608C1662 608 1662 724 1833 724"/><path d="M1491 615C1662 615 1662 1020 1833 1020"/><path d="M1491 621C1662 621 1662 960 1833 960"/><path d="M1491 642C1662 642 1662 520 1833 520"/><path d="M1491 650C1662 650 1662 760 1833 760"/><path d="M1491 657C1662 657 1662 830 1833 830"/><path d="M1491 662C1662 662 1662 575 1833 575"/><path d="M1491 680C1662 680 1662 820 1833 820"/><path d="M1491 686C1662 686 1662 572 1833 572"/>
<path d="M1491 707C1662 707 1662 572 1833 572"/><path d="M1491 714C1662 714 1662 676 1833 676"/><path d="M1491 722C1662 722 1662 722 1833 722"/><path d="M1491 729C1662 729 1662 940 1833 940"/><path d="M1491 736C1662 736 1662 1030 1833 1030"/><path d="M1491 742C1662 742 1662 1066 1833 1066"/><path d="M1491 749C1662 749 1662 950 1833 950"/><path d="M1491 755C1662 755 1662 1038 1833 1038"/><path d="M1491 761C1662 761 1662 725 1833 725"/><path d="M1491 781C1662 781 1662 960 1833 960"/><path d="M1491 787C1662 787 1662 1040 1833 1040"/><path d="M1491 793C1662 793 1662 885 1833 885"/><path d="M1491 797C1662 797 1662 760 1833 760"/><path d="M1491 820C1662 820 1662 1035 1833 1035"/><path d="M1491 831C1662 831 1662 964 1833 964"/><path d="M1491 853C1662 853 1662 1180 1833 1180"/><path d="M1491 859C1662 859 1662 524 1833 524"/><path d="M1491 864C1662 864 1662 575 1833 575"/><path d="M1491 883C1662 883 1662 1040 1833 1040"/><path d="M1491 906C1662 906 1662 968 1833 968"/><path d="M1491 916C1662 916 1662 1190 1833 1190"/><path d="M1491 923C1662 923 1662 1040 1833 1040"/><path d="M1491 945C1662 945 1662 962 1833 962"/><path d="M1491 952C1662 952 1662 1040 1833 1040"/><path d="M1491 958C1662 958 1662 1200 1833 1200"/><path d="M1491 976C1662 976 1662 1115 1833 1115"/><path d="M1491 996C1662 996 1662 1123 1833 1123"/><path d="M1491 1000C1662 1000 1662 520 1833 520"/><path d="M1491 1017C1662 1017 1662 1146 1833 1146"/><path d="M1491 1021C1662 1021 1662 965 1833 965"/><path d="M1491 1042C1662 1042 1662 524 1833 524"/><path d="M1491 1046C1662 1046 1662 1150 1833 1150"/><path d="M1491 1050C1662 1050 1662 1210 1833 1210"/><path d="M1491 1066C1662 1066 1662 1120 1833 1120"/><path d="M1491 1069C1662 1069 1662 1212 1833 1212"/><path d="M1491 1087C1662 1087 1662 1070 1833 1070"/><path d="M1491 1092C1662 1092 1662 1094 1833 1094"/><path d="M1491 1113C1662 1113 1662 1120 1833 1120"/><path d="M1491 1120C1662 1120 1662 524 1833 524"/><path d="M1491 1140C1662 1140 1662 1122 1833 1122"/><path d="M1491 1143C1662 1143 1662 524 1833 524"/><path d="M1491 1159C1662 1159 1662 1092 1833 1092"/><path d="M1491 1176C1662 1176 1662 1215 1833 1215"/><path d="M1491 1193C1662 1193 1662 1122 1833 1122"/><path d="M1491 1196C1662 1196 1662 524 1833 524"/><path d="M1491 1215C1662 1215 1662 1068 1833 1068"/><path d="M1491 1219C1662 1219 1662 1093 1833 1093"/><path d="M1491 1223C1662 1223 1662 1222 1833 1222"/>
</g>
<g stroke-width="8">
<path d="M1853 491C2024 491 2024 492 2195 492"/><path d="M1853 499C2024 499 2024 560 2195 560"/><path d="M1853 507C2024 507 2024 650 2195 650"/><path d="M1853 515C2024 515 2024 760 2195 760"/><path d="M1853 523C2024 523 2024 880 2195 880"/>
<path d="M1853 542C2024 542 2024 700 2195 700"/>
<path d="M1853 560C2024 560 2024 600 2195 600"/><path d="M1853 566C2024 566 2024 720 2195 720"/><path d="M1853 572C2024 572 2024 860 2195 860"/><path d="M1853 577C2024 577 2024 1000 2195 1000"/>
<path d="M1853 597C2024 597 2024 620 2195 620"/><path d="M1853 607C2024 607 2024 700 2195 700"/><path d="M1853 617C2024 617 2024 940 2195 940"/>
<path d="M1853 636C2024 636 2024 980 2195 980"/><path d="M1853 656C2024 656 2024 655 2195 655"/>
<path d="M1853 676C2024 676 2024 760 2195 760"/><path d="M1853 680C2024 680 2024 1040 2195 1040"/><path d="M1853 699C2024 699 2024 800 2195 800"/>
<path d="M1853 720C2024 720 2024 700 2195 700"/><path d="M1853 727C2024 727 2024 900 2195 900"/>
<path d="M1853 748C2024 748 2024 840 2195 840"/><path d="M1853 760C2024 760 2024 1100 2195 1100"/>
<path d="M1853 783C2024 783 2024 620 2195 620"/><path d="M1853 792C2024 792 2024 900 2195 900"/>
<path d="M1853 817C2024 817 2024 560 2195 560"/><path d="M1853 827C2024 827 2024 950 2195 950"/><path d="M1853 837C2024 837 2024 1150 2195 1150"/>
<path d="M1853 858C2024 858 2024 1000 2195 1000"/>
<path d="M1853 880C2024 880 2024 700 2195 700"/><path d="M1853 889C2024 889 2024 1060 2195 1060"/>
</g>
<g stroke-width="11">
<path d="M1853 912C2024 912 2024 650 2195 650"/><path d="M1853 925C2024 925 2024 880 2195 880"/><path d="M1853 938C2024 938 2024 1000 2195 1000"/><path d="M1853 951C2024 951 2024 1120 2195 1120"/><path d="M1853 964C2024 964 2024 1200 2195 1200"/>
<path d="M1853 989C2024 989 2024 600 2195 600"/><path d="M1853 1002C2024 1002 2024 760 2195 760"/><path d="M1853 1015C2024 1015 2024 940 2195 940"/><path d="M1853 1028C2024 1028 2024 1080 2195 1080"/><path d="M1853 1041C2024 1041 2024 1180 2195 1180"/>
</g>
<g stroke-width="8">
<path d="M1853 1064C2024 1064 2024 820 2195 820"/><path d="M1853 1072C2024 1072 2024 1140 2195 1140"/><path d="M1853 1093C2024 1093 2024 1210 2195 1210"/>
<path d="M1853 1113C2024 1113 2024 1000 2195 1000"/><path d="M1853 1122C2024 1122 2024 1190 2195 1190"/><path d="M1853 1145C2024 1145 2024 1100 2195 1100"/>
</g>
<g stroke-width="14">
<path d="M1853 1171C2024 1171 2024 900 2195 900"/><path d="M1853 1186C2024 1186 2024 1050 2195 1050"/><path d="M1853 1201C2024 1201 2024 1150 2195 1150"/><path d="M1853 1216C2024 1216 2024 1220 2195 1220"/>
</g>
<g stroke-width="3">
<path d="M1853 494C2024 494 2024 530 2195 530"/><path d="M1853 503C2024 503 2024 700 2195 700"/><path d="M1853 511C2024 511 2024 1000 2195 1000"/><path d="M1853 519C2024 519 2024 1150 2195 1150"/><path d="M1853 527C2024 527 2024 620 2195 620"/><path d="M1853 544C2024 544 2024 900 2195 900"/><path d="M1853 563C2024 563 2024 560 2195 560"/><path d="M1853 569C2024 569 2024 800 2195 800"/><path d="M1853 575C2024 575 2024 1100 2195 1100"/><path d="M1853 579C2024 579 2024 940 2195 940"/><path d="M1853 601C2024 601 2024 680 2195 680"/><path d="M1853 612C2024 612 2024 850 2195 850"/><path d="M1853 620C2024 620 2024 1050 2195 1050"/><path d="M1853 638C2024 638 2024 760 2195 760"/><path d="M1853 658C2024 658 2024 1150 2195 1150"/><path d="M1853 678C2024 678 2024 620 2195 620"/><path d="M1853 701C2024 701 2024 900 2195 900"/><path d="M1853 723C2024 723 2024 1200 2195 1200"/><path d="M1853 730C2024 730 2024 580 2195 580"/><path d="M1853 752C2024 752 2024 620 2195 620"/><path d="M1853 764C2024 764 2024 980 2195 980"/><path d="M1853 788C2024 788 2024 720 2195 720"/><path d="M1853 795C2024 795 2024 1220 2195 1220"/><path d="M1853 822C2024 822 2024 680 2195 680"/><path d="M1853 832C2024 832 2024 1020 2195 1020"/><path d="M1853 840C2024 840 2024 800 2195 800"/><path d="M1853 860C2024 860 2024 1180 2195 1180"/><path d="M1853 884C2024 884 2024 600 2195 600"/><path d="M1853 892C2024 892 2024 950 2195 950"/><path d="M1853 918C2024 918 2024 760 2195 760"/><path d="M1853 931C2024 931 2024 1060 2195 1060"/><path d="M1853 945C2024 945 2024 560 2195 560"/><path d="M1853 958C2024 958 2024 980 2195 980"/><path d="M1853 968C2024 968 2024 1140 2195 1140"/><path d="M1853 995C2024 995 2024 700 2195 700"/><path d="M1853 1008C2024 1008 2024 1000 2195 1000"/><path d="M1853 1021C2024 1021 2024 820 2195 820"/><path d="M1853 1035C2024 1035 2024 1220 2195 1220"/><path d="M1853 1046C2024 1046 2024 1100 2195 1100"/><path d="M1853 1068C2024 1068 2024 960 2195 960"/><path d="M1853 1075C2024 1075 2024 1220 2195 1220"/><path d="M1853 1095C2024 1095 2024 880 2195 880"/><path d="M1853 1117C2024 1117 2024 1100 2195 1100"/><path d="M1853 1125C2024 1125 2024 600 2195 600"/><path d="M1853 1148C2024 1148 2024 980 2195 980"/><path d="M1853 1178C2024 1178 2024 800 2195 800"/><path d="M1853 1193C2024 1193 2024 1000 2195 1000"/><path d="M1853 1208C2024 1208 2024 1180 2195 1180"/><path d="M1853 1222C2024 1222 2024 1100 2195 1100"/>
</g>
</g>
<g id="themes">
<g id="n-climate"><rect class="pk" x="24" y="850" width="20" height="37"/><text class="lb" x="56" y="868.5" dy="0.35em">Climate</text></g>
<g id="n-operational"><rect class="mv" x="24" y="898" width="20" height="33"/><text class="lb" x="56" y="914.5" dy="0.35em">Operational ocean services</text></g>
<g id="n-oceanhealth"><rect class="gr" x="24" y="943" width="20" height="40"/><text class="lb" x="56" y="963" dy="0.35em">Ocean Health</text></g>
</g>
<g id="societal">
<g id="n-s1"><rect class="pk" x="386" y="797" width="20" height="18"/><text class="lb" x="418" y="806" dy="0.35em">Climate Mitigation</text></g>
<g id="n-s2"><rect class="pk" x="386" y="827" width="20" height="28"/><text class="lb" x="418" y="841" dy="0.35em">Climate Adaptation</text></g>
<g id="n-s3"><rect class="pk" x="386" y="867" width="20" height="25"/><text class="lb" x="418" y="879.5" dy="0.35em">Climate Services</text></g>
<g id="n-s4"><rect class="pk" x="386" y="904" width="20" height="11"/><text class="lb" x="418" y="909.5" dy="0.35em">Tsunami and Inundation Risk</text></g>
<g id="n-s5"><rect class="pk" x="386" y="927" width="20" height="16"/><text class="lb" x="418" y="935" dy="0.35em">Marine Services</text></g>
<g id="n-s6"><rect class="mv" x="386" y="955" width="20" height="28"/><text class="lb" x="418" y="969" dy="0.35em">Efficient Maritime Economy</text></g>
<g id="n-s7"><rect class="pk" x="386" y="994" width="20" height="13"/><text class="lb" x="418" y="1000.5" dy="0.35em">Coastal Protection</text></g>
<g id="n-s8"><rect class="mv" x="386" y="1018" width="20" height="24"/><text class="lb" x="418" y="1030" dy="0.35em">Human Health</text></g>
<g id="n-s9"><rect class="gr" x="386" y="1054" width="20" height="29"/><text class="lb" x="418" y="1068.5" dy="0.35em">Food Security</text></g>
<g id="n-s10"><rect class="mv" x="386" y="1094" width="20" height="16"/><text class="lb" x="418" y="1102" dy="0.35em">Coastal Livelihoods</text></g>
<g id="n-s11"><rect class="gr" x="386" y="1123" width="20" height="15"/><text class="lb" x="418" y="1130.5" dy="0.35em">Sustainable Ocean Health</text></g>
<g id="n-s12"><rect class="gr" x="386" y="1150" width="20" height="8"/><text class="lb" x="418" y="1154" dy="0.35em">Biodiversity</text></g>
<g id="n-s13"><rect class="mv" x="386" y="1170" width="20" height="15"/><text class="lb" x="418" y="1177.5" dy="0.35em">Tourism and Culture</text></g>
<g id="n-s14"><rect class="mv" x="386" y="1199" width="20" height="6"/><text class="lb" x="418" y="1202" dy="0.35em">Clean Waters</text></g>
<g id="n-s15"><rect class="mv" x="386" y="1218" width="20" height="6"/><text class="lb" x="418" y="1221" dy="0.35em">Human Impacts</text></g>
</g>
<g id="applications">
<g id="n-a1"><rect class="pk" x="747" y="667" width="20" height="33"/><text class="lb" x="779" y="683.5" dy="0.35em">Climate Forecasting and Projection</text></g>
<g id="n-a2"><rect class="pk" x="747" y="712" width="20" height="19"/><text class="lb" x="779" y="721.5" dy="0.35em">Climate analysis and assessment</text></g>
<g id="n-a3"><rect class="pk" x="747" y="743" width="20" height="41"/><text class="lb" x="779" y="763.5" dy="0.35em">Climate Cycles</text></g>
<g id="n-a4"><rect class="pk" x="747" y="796" width="20" height="37"/><text class="lb" x="779" y="814.5" dy="0.35em">Weather forecasting</text></g>
<g id="n-a5"><rect class="pk" x="747" y="845" width="20" height="64"/><text class="lb" x="779" y="877" dy="0.35em">Ocean forecasting</text></g>
<g id="n-a6"><rect class="gr" x="747" y="922" width="20" height="47"/><text class="lb" x="779" y="945.5" dy="0.35em">Ecosystem Assessment</text></g>
<g id="n-a7"><rect class="gr" x="747" y="982" width="20" height="36"/><text class="lb" x="779" y="1000" dy="0.35em">Biodiversity Assessment</text></g>
<g id="n-a8"><rect class="gr" x="747" y="1032" width="20" height="31"/><text class="lb" x="779" y="1047.5" dy="0.35em">Sustainable Management</text></g>
<g id="n-a9"><rect class="bl" x="747" y="1075" width="20" height="52"/><text class="lb" x="779" y="1101" dy="0.35em">Pollution Assessment</text></g>
<g id="n-a10"><rect class="mv" x="747" y="1140" width="20" height="39"/><text class="lb" x="779" y="1159.5" dy="0.35em">Marine Hazard Response</text></g>
<g id="n-a11"><rect class="mv" x="747" y="1192" width="20" height="32"/><text class="lb" x="779" y="1208" dy="0.35em">Assessing Human Impact on Ocean</text></g>
</g>
<g id="phenomena">
<g id="n-p1"><rect class="lp" x="1109" y="365" width="20" height="10"/><text class="lb" x="1141" y="370" dy="0.35em">Tsunami/Storm Surge</text></g>
<g id="n-p2"><rect class="pk" x="1109" y="388" width="20" height="9"/><text class="lb" x="1141" y="392.5" dy="0.35em">Sea Level Monitoring</text></g>
<g id="n-p3"><rect class="pk" x="1109" y="407" width="20" height="25"/><text class="lb" x="1141" y="419.5" dy="0.35em">Ocean Circulation</text></g>
<g id="n-p4"><rect class="pk" x="1109" y="443" width="20" height="21"/><text class="lb" x="1141" y="453.5" dy="0.35em">Climate Modes</text></g>
<g id="n-p5"><rect class="pk" x="1109" y="475" width="20" height="12"/><text class="lb" x="1141" y="481" dy="0.35em">Ocean heat content</text></g>
<g id="n-p6"><rect class="pk" x="1109" y="499" width="20" height="36"/><text class="lb" x="1141" y="517" dy="0.35em">Air-sea fluxes</text></g>
<g id="n-p7"><rect class="pk" x="1109" y="548" width="20" height="24"/><text class="lb" x="1141" y="560" dy="0.35em">Mixed Layer</text></g>
<g id="n-p8"><rect class="pk" x="1109" y="583" width="20" height="42"/><text class="lb" x="1141" y="604" dy="0.35em">Upwelling/ Convection/ Ventilation</text></g>
<g id="n-p9"><rect class="pk" x="1109" y="637" width="20" height="26"/><text class="lb" x="1141" y="650" dy="0.35em">Land-Sea fluxes</text></g>
<g id="n-p10"><rect class="pk" x="1109" y="675" width="20" height="15"/><text class="lb" x="1141" y="682.5" dy="0.35em">Wave Processes</text></g>
<g id="n-p11"><rect class="pk" x="1109" y="700" width="20" height="11"/><text class="lb" x="1141" y="705.5" dy="0.35em">Sea Ice Processes</text></g>
<g id="n-p12"><rect class="pk" x="1109" y="723" width="20" height="15"/><text class="lb" x="1141" y="730.5" dy="0.35em">Coastal and Boundary Processes</text></g>
<g id="n-p13"><rect class="bl" x="1109" y="752" width="20" height="20"/><text class="lb" x="1141" y="762" dy="0.35em">Ocean Acidification phenomena</text></g>
<g id="n-p14"><rect class="bl" x="1109" y="783" width="20" height="20"/><text class="lb" x="1141" y="793" dy="0.35em">Ocean Carbon Cycle</text></g>
<g id="n-p15"><rect class="bl" x="1109" y="815" width="20" height="14"/><text class="lb" x="1141" y="822" dy="0.35em">non-CO2 greenhouse gases</text></g>
<g id="n-p16"><rect class="bl" x="1109" y="843" width="20" height="30"/><text class="lb" x="1141" y="858" dy="0.35em">Eutrophication/Hypoxia</text></g>
<g id="n-p17"><rect class="gr" x="1109" y="888" width="20" height="27"/><text class="lb" x="1141" y="900.5" dy="0.35em">Ocean productivity</text></g>
<g id="n-p18"><rect class="gr" x="1109" y="927" width="20" height="11"/><text class="lb" x="1141" y="932.5" dy="0.35em">Particle concentrations</text></g>
<g id="n-p19"><rect class="bl" x="1109" y="950" width="20" height="28"/><text class="lb" x="1141" y="964" dy="0.35em">Particulate Matter Transport</text></g>
<g id="n-p20"><rect class="gr" x="1109" y="991" width="20" height="22"/><text class="lb" x="1141" y="1002" dy="0.35em">Habitat modification</text></g>
<g id="n-p21"><rect class="gr" x="1109" y="1027" width="20" height="31"/><text class="lb" x="1141" y="1042.5" dy="0.35em">Food webs</text></g>
<g id="n-p22"><rect class="bl" x="1109" y="1071" width="20" height="41"/><text class="lb" x="1141" y="1091.5" dy="0.35em">Contaminants Speciation, Transport</text></g>
<g id="n-p23"><rect class="bl" x="1109" y="1123" width="20" height="40"/><text class="lb" x="1141" y="1143" dy="0.35em">Contaminant sinks, transformation</text></g>
<g id="n-p24"><rect class="bl" x="1109" y="1176" width="20" height="48"/><text class="lb" x="1141" y="1200" dy="0.35em">Pollution Impacts</text></g>
</g>
<g id="eov">
<g id="n-e1"><rect class="pk" x="1471" y="232" width="20" height="15"/><text class="lb r" x="1462" y="239.5" dy="0.35em">Sea state</text></g>
<g id="n-e2"><rect class="pk" x="1471" y="260" width="20" height="15"/><text class="lb r" x="1462" y="267.5" dy="0.35em">Sea ice</text></g>
<g id="n-e3"><rect class="pk" x="1471" y="288" width="20" height="19"/><text class="lb r" x="1462" y="297.5" dy="0.35em">Sea level</text></g>
<g id="n-e4"><rect class="pk" x="1471" y="320" width="20" height="27"/><text class="lb r" x="1462" y="333.5" dy="0.35em">SST</text></g>
<g id="n-e5"><rect class="pk" x="1471" y="360" width="20" height="43"/><text class="lb r" x="1462" y="381.5" dy="0.35em">Temperature (subsurface)</text></g>
<g id="n-e6"><rect class="pk" x="1471" y="417" width="20" height="31"/><text class="lb r" x="1462" y="432.5" dy="0.35em">SSS</text></g>
<g id="n-e7"><rect class="pk" x="1471" y="462" width="20" height="46"/><text class="lb r" x="1462" y="485" dy="0.35em">Subsurface Salinity</text></g>
<g id="n-e8"><rect class="pk" x="1471" y="522" width="20" height="43"/><text class="lb r" x="1462" y="542.5" dy="0.35em">Surface current</text></g>
<g id="n-e9"><rect class="pk" x="1471" y="578" width="20" height="44"/><text class="lb r" x="1462" y="602" dy="0.35em">Currents</text></g>
<g id="n-e10"><rect class="pk" x="1471" y="635" width="20" height="28"/><text class="lb r" x="1462" y="649" dy="0.35em">OSVS</text></g>
<g id="n-e11"><rect class="pk" x="1471" y="675" width="20" height="15"/><text class="lb r" x="1462" y="682.5" dy="0.35em">Heat fluxes</text></g>
<g id="n-e12"><rect class="bl" x="1471" y="702" width="20" height="38"/><text class="lb r" x="1462" y="717" dy="0.35em">Dissolved Oxygen</text></g>
<g id="n-e13"><rect class="bl" x="1471" y="743" width="20" height="19"/><text class="lb r" x="1462" y="752" dy="0.35em">Macro Nutrients</text></g>
<g id="n-e14"><rect class="bl" x="1471" y="775" width="20" height="22"/><text class="lb r" x="1462" y="786.5" dy="0.35em">Carbonate system</text></g>
<g id="n-e15"><rect class="bl" x="1471" y="812" width="20" height="21"/><text class="lb r" x="1462" y="823" dy="0.35em">Transient tracers</text></g>
<g id="n-e16"><rect class="bl" x="1471" y="847" width="20" height="18"/><text class="lb r" x="1462" y="855.5" dy="0.35em">Suspended Particulates</text></g>
<g id="n-e17"><rect class="bl" x="1471" y="878" width="20" height="7"/><text class="lb r" x="1462" y="881.5" dy="0.35em">Nitrous oxide</text></g>
<g id="n-e18"><rect class="bl" x="1471" y="898" width="20" height="27"/><text class="lb r" x="1462" y="910.5" dy="0.35em">Stable Carbon Isotopes</text></g>
<g id="n-e19"><rect class="bl" x="1471" y="938" width="20" height="22"/><text class="lb r" x="1462" y="949" dy="0.35em">Dissolved Organic Carbon</text></g>
<g id="n-e20"><rect class="gr" x="1471" y="973" width="20" height="4"/><text class="lb r" x="1462" y="975" dy="0.35em">Coral cover</text></g>
<g id="n-e21"><rect class="gr" x="1471" y="992" width="20" height="8"/><text class="lb r" x="1462" y="995" dy="0.35em">Seagrass area</text></g>
<g id="n-e22"><rect class="gr" x="1471" y="1013" width="20" height="9"/><text class="lb r" x="1462" y="1017.5" dy="0.35em">Zooplankton</text></g>
<g id="n-e23"><rect class="gr" x="1471" y="1038" width="20" height="12"/><text class="lb r" x="1462" y="1044.5" dy="0.35em">Phytoplankton</text></g>
<g id="n-e24"><rect class="gr" x="1471" y="1063" width="20" height="7"/><text class="lb r" x="1462" y="1066.5" dy="0.35em">HAB</text></g>
<g id="n-e25"><rect class="gr" x="1471" y="1083" width="20" height="10"/><text class="lb r" x="1462" y="1089" dy="0.35em">Apex Predators</text></g>
<g id="n-e26"><rect class="gr" x="1471" y="1108" width="20" height="14"/><text class="lb r" x="1462" y="1114" dy="0.35em">Macroalgal cover</text></g>
<g id="n-e27"><rect class="gr" x="1471" y="1137" width="20" height="6"/><text class="lb r" x="1462" y="1139" dy="0.35em">Mangrove area</text></g>
<g id="n-e28"><rect class="gr" x="1471" y="1157" width="20" height="5"/><text class="lb r" x="1462" y="1158.5" dy="0.35em">Status Fish</text></g>
<g id="n-e29"><rect class="gr" x="1471" y="1173" width="20" height="4"/><text class="lb r" x="1462" y="1175" dy="0.35em">Microbes</text></g>
<g id="n-e30"><rect class="gr" x="1471" y="1188" width="20" height="9"/><text class="lb r" x="1462" y="1192.5" dy="0.35em">Salt Marsh area</text></g>
<g id="n-e31"><rect class="gr" x="1471" y="1210" width="20" height="13"/><text class="lb r" x="1462" y="1216" dy="0.35em">Tags/tracking</text></g>
</g>
<g id="platforms">
<g id="n-o1"><rect class="pk" x="1833" y="489" width="20" height="41"/><text class="lb r" x="1824" y="508" dy="0.35em">Satellites</text></g>
<g id="n-o2"><rect class="pk" x="1833" y="540" width="20" height="5"/><text class="lb r" x="1824" y="542" dy="0.35em">HF Radar</text></g>
<g id="n-o3"><rect class="pk" x="1833" y="557" width="20" height="23"/><text class="lb r" x="1824" y="568" dy="0.35em">Moorings</text></g>
<g id="n-o4"><rect class="pk" x="1833" y="593" width="20" height="29"/><text class="lb r" x="1824" y="607" dy="0.35em">Boundary Current Arrays</text></g>
<g id="n-o5"><rect class="pk" x="1833" y="633" width="20" height="6"/><text class="lb r" x="1824" y="635" dy="0.35em">Ice tethered profilers</text></g>
<g id="n-o6"><rect class="pk" x="1833" y="653" width="20" height="6"/><text class="lb r" x="1824" y="655" dy="0.35em">Sea Level Gauges</text></g>
<g id="n-o7"><rect class="pk" x="1833" y="674" width="20" height="8"/><text class="lb r" x="1824" y="677" dy="0.35em">Argo profilers</text></g>
<g id="n-o8"><rect class="pk" x="1833" y="697" width="20" height="5"/><text class="lb r" x="1824" y="700" dy="0.35em">Deep Argo</text></g>
<g id="n-o9"><rect class="pk" x="1833" y="716" width="20" height="14"/><text class="lb r" x="1824" y="722.5" dy="0.35em">Gliders</text></g>
<g id="n-o10"><rect class="pk" x="1833" y="743" width="20" height="23"/><text class="lb r" x="1824" y="755" dy="0.35em">Surface gliders</text></g>
<g id="n-o11"><rect class="pk" x="1833" y="779" width="20" height="18"/><text class="lb r" x="1824" y="789" dy="0.35em">Drifting buoys</text></g>
<g id="n-o12"><rect class="pk" x="1833" y="812" width="20" height="30"/><text class="lb r" x="1824" y="827" dy="0.35em">Marine Meteorology</text></g>
<g id="n-o13"><rect class="pk" x="1833" y="855" width="20" height="7"/><text class="lb r" x="1824" y="859" dy="0.35em">XBT and TSGs</text></g>
<g id="n-o14"><rect class="pk" x="1833" y="875" width="20" height="19"/><text class="lb r" x="1824" y="884" dy="0.35em">Ships of Opportunity</text></g>
<g id="n-o15"><rect class="bl" x="1833" y="907" width="20" height="64"/><text class="lb r" x="1824" y="939" dy="0.35em">Ship Based Time Series</text></g>
<g id="n-o16"><rect class="bl" x="1833" y="984" width="20" height="64"/><text class="lb r" x="1824" y="1016.5" dy="0.35em">Ship Based Sampling; Repeat Hydrography</text></g>
<g id="n-o17"><rect class="gr" x="1833" y="1061" width="20" height="15"/><text class="lb r" x="1824" y="1067" dy="0.35em">Animal CTD</text></g>
<g id="n-o18"><rect class="gr" x="1833" y="1090" width="20" height="6"/><text class="lb r" x="1824" y="1093" dy="0.35em">Acoustic Network</text></g>
<g id="n-o19"><rect class="gr" x="1833" y="1109" width="20" height="18"/><text class="lb r" x="1824" y="1117" dy="0.35em">Coastal Surveys</text></g>
<g id="n-o20"><rect class="gr" x="1833" y="1140" width="20" height="11"/><text class="lb r" x="1824" y="1144" dy="0.35em">Nets CPR</text></g>
<g id="n-o21"><rect class="bl" x="1833" y="1164" width="20" height="60"/><text class="lb r" x="1824" y="1195" dy="0.35em">Particulate Export flux</text></g>
</g>
<g id="next-column">
<text class="lb" x="1965" y="652" dy="0.35em">H</text>
<text class="lb" x="1965" y="667" dy="0.35em">Gl</text>
<text class="lb" x="1981" y="948" dy="0.35em">I</text>
</g>
</g>
<rect x="6" y="7" width="1982" height="1272" fill="none" stroke="#000" stroke-width="3"/>
</svg>
